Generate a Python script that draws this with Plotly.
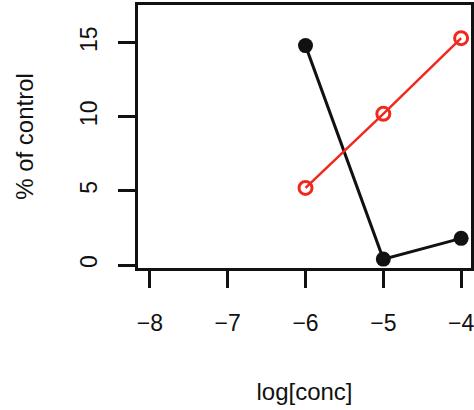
import plotly.graph_objects as go

# log10 concentration levels
log_conc = [-6, -5, -4]

# response as % of control for the two treatments
series_black = [14.8, 0.4, 1.8]
series_red = [5.2, 10.2, 15.3]

x_ticks = [-8, -7, -6, -5, -4]
y_ticks = [0, 5, 10, 15]

FONT = "Liberation Sans, Arial, Helvetica, sans-serif"
INK = "#111111"

fig = go.Figure()

fig.add_trace(go.Scatter(
    x=log_conc, y=series_black, mode="lines+markers",
    line=dict(color=INK, width=3),
    marker=dict(symbol="circle", size=15, color=INK),
    cliponaxis=False, showlegend=False,
))

fig.add_trace(go.Scatter(
    x=log_conc, y=series_red, mode="lines+markers",
    line=dict(color="#f0281e", width=2.5),
    marker=dict(symbol="circle-open", size=13, color="#f0281e",
                line=dict(width=3, color="#f0281e")),
    cliponaxis=False, showlegend=False,
))

axis_common = dict(
    showgrid=False, zeroline=False,
    showline=True, linecolor=INK, linewidth=2.5, mirror=True,
    ticks="outside", ticklen=17, tickwidth=2.5, tickcolor=INK,
    tickfont=dict(family=FONT, size=23, color=INK),
    ticklabeloverflow="allow",
)

fig.update_xaxes(
    range=[-8.153, -3.873], tickvals=x_ticks,
    ticktext=["\u22128", "\u22127", "\u22126", "\u22125", "\u22124"],
    ticklabelstandoff=16,
    title=dict(text="log[conc]", font=dict(family=FONT, size=24, color=INK),
               standoff=48),
    **axis_common,
)

fig.update_yaxes(
    range=[-0.2, 17.54], tickvals=y_ticks, tickangle=-90,
    ticklabelstandoff=12,
    title=dict(text="% of control", font=dict(family=FONT, size=24, color=INK),
               standoff=36),
    **axis_common,
)

fig.update_layout(
    width=474, height=410,
    margin=dict(l=138, r=0, t=5, b=142),
    paper_bgcolor="white", plot_bgcolor="white",
)

fig.write_html("out.html")
